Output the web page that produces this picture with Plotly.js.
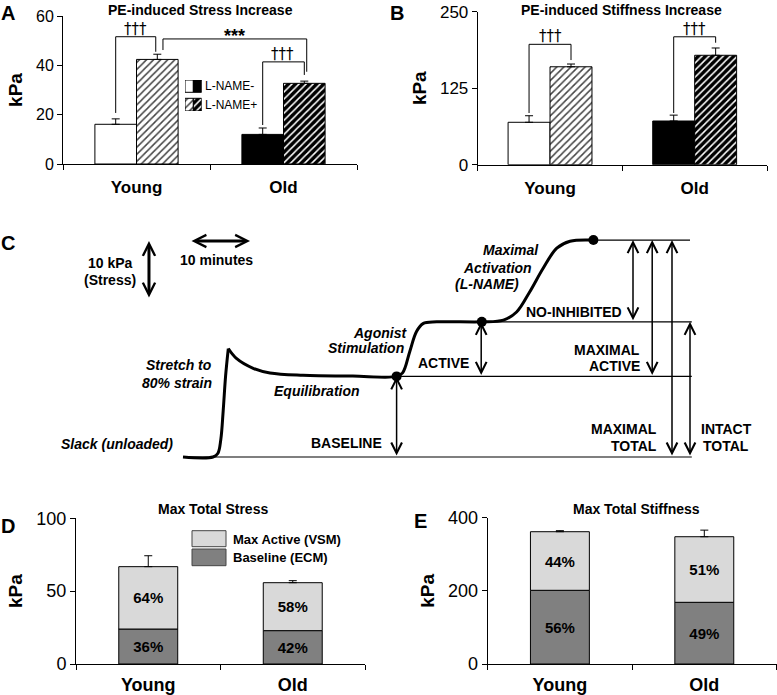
<!DOCTYPE html>
<html><head><meta charset="utf-8">
<script src="https://cdn.plot.ly/plotly-3.0.1.min.js"></script>
<style>html,body{margin:0;padding:0;background:#fff}#chart{width:777px;height:695px}</style>
</head><body><div id="chart"></div>
<script>
// ---------------- data ----------------
const groups = ['Young', 'Old'];
const groupFill = ['white', 'black'];       // L-NAME- fill per group
const groupHatchFg = ['#444', 'white'];     // L-NAME+ hatch line colour per group

// Panel A: PE-induced stress increase (kPa)
const stressNoLName = [16.1, 12.0];
const stressNoLNameSem = [2.2, 2.6];
const stressLName = [42.4, 32.7];
const stressLNameSem = [2.1, 0.9];

// Panel B: PE-induced stiffness increase (kPa)
const stiffNoLName = [69.3, 71.4];
const stiffNoLNameSem = [10.7, 9.6];
const stiffLName = [160.0, 178.8];
const stiffLNameSem = [4.5, 11.9];

// Panel D: max total stress (kPa)
const stressBaseline = [24.0, 22.9];
const stressMaxActive = [42.8, 32.9];
const stressTotalSem = [7.5, 1.4];
const stressBaselinePct = ['36%', '42%'];
const stressActivePct = ['64%', '58%'];

// Panel E: max total stiffness (kPa)
const stiffBaseline = [201.5, 168.7];
const stiffMaxActive = [160.2, 179.3];
const stiffTotalSem = [2.8, 18.0];
const stiffBaselinePct = ['56%', '49%'];
const stiffActivePct = ['44%', '51%'];

// Panel C: schematic protocol trace (time in min, stress in kPa)
const stretchTime   = [0, 5.0, 5.8, 6.3, 6.7, 7.1, 7.55];
const stretchStress = [0, 0, 0.6, 3.0, 8.0, 14.0, 18.7];
const protocolTime   = [7.55, 8.9, 11.7, 14.5, 20.0, 28.3, 35.6, 36.6, 37.8, 38.9, 40.0, 42.3, 49.8, 53.4, 55.6, 57.8, 60.0, 62.3, 64.5, 68.4];
const protocolStress = [18.7, 17.0, 15.3, 14.5, 14.1, 13.95, 13.9, 14.5, 18.2, 21.6, 23.0, 23.3, 23.3, 23.6, 25.0, 28.5, 32.5, 36.0, 37.2, 37.4];
const keyTime   = [35.6, 49.8, 68.4];
const keyStress = [13.9, 23.3, 37.4];
const levelStress = [0, 13.9, 23.3, 37.4];
const levelStart  = [0, 35.6, 49.8, 68.4];
const levelEnd    = [84.8, 84.8, 84.8, 84.5];
// double arrows: time, low stress, high stress
const measureTime = [35.6, 49.7, 75.0, 78.2, 81.5, 84.5];
const measureLow  = [0, 13.9, 23.3, 13.9, 0, 0];
const measureHigh = [13.9, 23.3, 37.4, 37.4, 37.4, 23.3];

// ---------------- helpers ----------------
const W = 777, H = 695;
const FONT = "'Liberation Sans', Arial, sans-serif";
const X = p => p / W;
const Y = p => 1 - p / H;
const blackLine = {color: 'black', width: 1};
function errUp(arr) {
  return {type: 'data', symmetric: false, array: arr, arrayminus: arr.map(() => 0),
          color: 'black', thickness: 1, width: 4};
}
const hatch = (bg, fg) => ({shape: '/', bgcolor: bg, fgcolor: fg, size: 5, solidity: 0.3, fillmode: 'replace'});

const traces = [];
function pairedBars(xa, ya, negVals, negSem, posVals, posSem, w) {
  traces.push({type: 'bar', x: groups, y: negVals, xaxis: xa, yaxis: ya, width: w, offset: -w,
    marker: {color: groupFill, line: blackLine}, error_y: errUp(negSem), name: 'L-NAME-'});
  groups.forEach((g, i) => {
    traces.push({type: 'bar', x: [g], y: [posVals[i]], xaxis: xa, yaxis: ya, width: w, offset: 0,
      marker: {color: groupFill[i], pattern: hatch(groupFill[i], groupHatchFg[i]), line: blackLine},
      error_y: errUp([posSem[i]]), name: 'L-NAME+'});
  });
}
pairedBars('x', 'y', stressNoLName, stressNoLNameSem, stressLName, stressLNameSem, 0.283);
pairedBars('x2', 'y2', stiffNoLName, stiffNoLNameSem, stiffLName, stiffLNameSem, 0.29);

// Panel A legend swatches (split: Young | Old style)
[0, 1].forEach(i => {
  traces.push({type: 'bar', x: [i + 0.5], y: [12.3], base: [18.7], width: 1, xaxis: 'x6', yaxis: 'y6',
    marker: {color: groupFill[i], line: blackLine}, hoverinfo: 'skip'});
  traces.push({type: 'bar', x: [i + 0.5], y: [12.7], base: [0], width: 1, xaxis: 'x6', yaxis: 'y6',
    marker: {color: groupFill[i], pattern: hatch(groupFill[i], groupHatchFg[i]), line: blackLine}, hoverinfo: 'skip'});
});

// Panels D & E (stacked via base)
const pctFont = {family: FONT, size: 15, weight: 'bold', color: 'black'};
function stackPair(xa, ya, baseVals, activeVals, sem, basePct, actPct) {
  traces.push({type: 'bar', x: groups, y: baseVals, xaxis: xa, yaxis: ya, width: 0.408, offset: -0.204,
    marker: {color: '#808080', line: blackLine}, text: basePct, textposition: 'inside', insidetextanchor: 'middle',
    textangle: 0, textfont: pctFont, insidetextfont: pctFont, name: 'Baseline (ECM)'});
  traces.push({type: 'bar', x: groups, y: activeVals, base: baseVals, xaxis: xa, yaxis: ya, width: 0.408, offset: -0.204,
    marker: {color: '#d9d9d9', line: blackLine}, text: actPct, textposition: 'inside', insidetextanchor: 'middle',
    textangle: 0, textfont: pctFont, insidetextfont: pctFont, error_y: errUp(sem), name: 'Max Active (VSM)'});
}
stackPair('x4', 'y4', stressBaseline, stressMaxActive, stressTotalSem, stressBaselinePct, stressActivePct);
stackPair('x5', 'y5', stiffBaseline, stiffMaxActive, stiffTotalSem, stiffBaselinePct, stiffActivePct);

// Panel C
const curveLine = {color: 'black', width: 3, shape: 'spline', smoothing: 1};
traces.push({type: 'scatter', mode: 'lines', x: stretchTime, y: stretchStress, xaxis: 'x3', yaxis: 'y3', line: curveLine});
traces.push({type: 'scatter', mode: 'lines', x: protocolTime, y: protocolStress, xaxis: 'x3', yaxis: 'y3', line: curveLine});
traces.push({type: 'scatter', mode: 'markers', x: keyTime, y: keyStress, xaxis: 'x3', yaxis: 'y3',
  marker: {color: 'black', size: 10}});

// ---------------- layout ----------------
const baseAxis = {showgrid: false, zeroline: false, showline: true, linecolor: 'black', linewidth: 1,
  ticks: 'outside', ticklen: 5, tickcolor: 'black', tickwidth: 1, fixedrange: true};
const catTickFont = {family: FONT, size: 17, weight: 'bold', color: 'black'};
const numTickFont = {family: FONT, size: 16, color: 'black'};
const kpaTitle = standoff => ({text: 'kPa', font: {family: FONT, size: 19, weight: 'bold', color: 'black'}, standoff: standoff});
const catAxis = (dom, anchor, fs, so) => Object.assign({}, baseAxis, {domain: dom, anchor: anchor, type: 'category',
  range: [-0.5, 1.5], tickson: 'boundaries', tickfont: Object.assign({}, catTickFont, {size: fs}), ticklabelstandoff: so});
const valAxis = (dom, anchor, range, tv, fs) => Object.assign({}, baseAxis, {domain: dom, anchor: anchor,
  range: range, tickvals: tv, tickfont: Object.assign({}, numTickFont, {size: fs}), title: kpaTitle(8)});

const shapes = [];
const annotations = [];
function line(xref, yref, x0, y0, x1, y1, w) {
  shapes.push({type: 'line', xref: xref, yref: yref, x0: x0, y0: y0, x1: x1, y1: y1, line: {color: 'black', width: w || 1}});
}
function bracket(xref, yref, x0, y0, top, x1, y1) {
  line(xref, yref, x0, y0, x0, top); line(xref, yref, x0, top, x1, top); line(xref, yref, x1, top, x1, y1);
}
function note(text, x, y, opts) {
  annotations.push(Object.assign({text: text, x: x, y: y, xref: 'paper', yref: 'paper', showarrow: false,
    xanchor: 'center', yanchor: 'middle', font: {family: FONT, size: 14, weight: 'bold', color: 'black'}}, opts || {}));
}
function sig(text, xref, yref, x, y, font) {
  annotations.push({text: text, x: x, y: y, xref: xref, yref: yref, showarrow: false, xanchor: 'center', yanchor: 'bottom',
    font: font});
}
const daggerFont = {family: "'DejaVu Sans', sans-serif", size: 15, color: 'black'};
const starFont = {family: FONT, size: 18, weight: 'bold', color: 'black'};

// significance brackets
bracket('x', 'y', -0.1415, 20.7, 51.6, 0.131, 45.5);
bracket('x', 'y', 0.18, 46.2, 50.7, 1.158, 37.4);
bracket('x', 'y', 0.8585, 15.8, 41.4, 1.1415, 36.1);
sig('†††', 'x', 'y', -0.005, 50.3, daggerFont);
sig('***', 'x', 'y', 0.67, 47.0, starFont);
sig('†††', 'x', 'y', 0.995, 40.1, daggerFont);
bracket('x2', 'y2', -0.145, 84.5, 196.7, 0.145, 171);
bracket('x2', 'y2', 0.855, 84.5, 209, 1.145, 199.3);
sig('†††', 'x2', 'y2', 0, 192, daggerFont);
sig('†††', 'x2', 'y2', 1.0, 204, daggerFont);

// panel C level lines
levelStress.forEach((s, i) => {
  shapes.push({type: 'line', xref: 'x3', yref: 'y3', x0: levelStart[i], x1: levelEnd[i], y0: s, y1: s,
    line: {color: 'black', width: 1.2}, layer: 'below'});
});
// panel C measurement arrows
measureTime.forEach((t, i) => {
  annotations.push({text: '', x: t, y: measureHigh[i], ax: t, ay: measureLow[i], xref: 'x3', yref: 'y3',
    axref: 'x3', ayref: 'y3', showarrow: true, arrowhead: 5, startarrowhead: 5, arrowside: 'end+start',
    arrowsize: 1.4, startarrowsize: 1.4, arrowwidth: 1.5, arrowcolor: 'black', standoff: 0, startstandoff: 0});
});
// scale bars: 10 kPa and 10 minutes
const scaleOriginTime = 1.17, scaleOriginStress = 37.24, scaleBarX = -5.67;
annotations.push({text: '', x: scaleBarX, y: scaleOriginStress, ax: scaleBarX, ay: scaleOriginStress - 10,
  xref: 'x3', yref: 'y3', axref: 'x3', ayref: 'y3', showarrow: true, arrowhead: 5, startarrowhead: 5,
  arrowside: 'end+start', arrowsize: 0.8, startarrowsize: 0.8, arrowwidth: 3, arrowcolor: 'black'});
annotations.push({text: '', x: scaleOriginTime + 10, y: scaleOriginStress, ax: scaleOriginTime, ay: scaleOriginStress,
  xref: 'x3', yref: 'y3', axref: 'x3', ayref: 'y3', showarrow: true, arrowhead: 5, startarrowhead: 5,
  arrowside: 'end+start', arrowsize: 0.8, startarrowsize: 0.8, arrowwidth: 3, arrowcolor: 'black'});

// panel letters and titles
const letterFont = {family: FONT, size: 20, weight: 'bold', color: 'black'};
note('A', X(8), Y(13), {font: letterFont});
note('B', X(397), Y(13), {font: letterFont});
note('C', X(8), Y(243), {font: letterFont});
note('D', X(8), Y(526), {font: letterFont});
note('E', X(420), Y(521), {font: letterFont});
note('PE-induced Stress Increase', X(200), Y(10));
note('PE-induced Stiffness Increase', X(621), Y(10));
note('Max Total Stress', X(213), Y(509));
note('Max Total Stiffness', X(636), Y(509));

// legend A
note('L-NAME-', X(203), Y(86.5), {xanchor: 'left', font: {family: FONT, size: 12, color: 'black'}});
note('L-NAME+', X(203), Y(104.7), {xanchor: 'left', font: {family: FONT, size: 12, color: 'black'}});
// legend D
shapes.push({type: 'rect', xref: 'paper', yref: 'paper', x0: X(192), x1: X(226), y0: Y(546.7), y1: Y(530.7),
  fillcolor: '#d9d9d9', line: {color: '#444', width: 1}});
shapes.push({type: 'rect', xref: 'paper', yref: 'paper', x0: X(192), x1: X(226), y0: Y(565.7), y1: Y(549),
  fillcolor: '#808080', line: {color: '#444', width: 1}});
note('Max Active (VSM)', X(231), Y(539), {xanchor: 'left', font: {family: FONT, size: 13, weight: 'bold', color: 'black'}});
note('Baseline (ECM)', X(231), Y(557), {xanchor: 'left', font: {family: FONT, size: 13, weight: 'bold', color: 'black'}});

// panel C labels
const it = {family: FONT, size: 14, weight: 'bold', style: 'italic', color: 'black'};
note('10 kPa', X(110), Y(263));
note('(Stress)', X(110), Y(280));
note('10 minutes', X(216.5), Y(260));
note('Slack (unloaded)', X(117), Y(444), {font: it});
note('Stretch to', X(214), Y(365), {xanchor: 'right', font: it});
note('80% strain', X(214), Y(382.7), {xanchor: 'right', font: it});
note('Equilibration', X(316.7), Y(391), {font: it});
note('Agonist', X(409), Y(333), {xanchor: 'right', font: it});
note('Stimulation', X(406), Y(348), {xanchor: 'right', font: it});
note('Maximal', X(541), Y(250), {xanchor: 'right', font: it});
note('Activation', X(534), Y(267.5), {xanchor: 'right', font: it});
note('(L-NAME)', X(521), Y(284.3), {xanchor: 'right', font: it});
note('NO-INHIBITED', X(624), Y(312), {xanchor: 'right'});
note('ACTIVE', X(471), Y(363), {xanchor: 'right'});
note('MAXIMAL', X(642), Y(350), {xanchor: 'right'});
note('ACTIVE', X(642), Y(365.7), {xanchor: 'right'});
note('MAXIMAL', X(659), Y(429.3), {xanchor: 'right'});
note('TOTAL', X(659), Y(446), {xanchor: 'right'});
note('INTACT', X(699), Y(429.3), {xanchor: 'left'});
note('TOTAL', X(701), Y(446), {xanchor: 'left'});
note('BASELINE', X(384), Y(443), {xanchor: 'right'});

const hidden = {visible: false, fixedrange: true, showgrid: false, zeroline: false};
const layout = {
  width: W, height: H, margin: {l: 0, r: 0, t: 0, b: 0},
  paper_bgcolor: 'white', plot_bgcolor: 'rgba(0,0,0,0)', showlegend: false,
  barmode: 'overlay', font: {family: FONT, color: 'black'},
  xaxis: catAxis([X(63), X(357)], 'y', 17, 8),
  yaxis: valAxis([Y(164), Y(16)], 'x', [0, 60], [0, 20, 40, 60], 16),
  xaxis2: catAxis([X(477.7), X(767)], 'y2', 17, 8),
  yaxis2: valAxis([Y(164.7), Y(11.7)], 'x2', [0, 250], [0, 125, 250], 17),
  xaxis3: Object.assign({}, hidden, {domain: [0, 1], range: [-30.5, 99], anchor: 'y3'}),
  yaxis3: Object.assign({}, hidden, {domain: [0, 1], range: [-41.03, 78.79], anchor: 'x3'}),
  xaxis4: catAxis([X(76), X(365)], 'y4', 18, 4),
  yaxis4: valAxis([Y(664), Y(518.3)], 'x4', [0, 100], [0, 50, 100], 18),
  xaxis5: catAxis([X(487.7), X(776.5)], 'y5', 18, 4),
  yaxis5: valAxis([Y(664), Y(517.7)], 'x5', [0, 400], [0, 200, 400], 18),
  xaxis6: Object.assign({}, hidden, {domain: [X(185), X(201.7)], range: [0, 2], anchor: 'y6'}),
  yaxis6: Object.assign({}, hidden, {domain: [Y(111), Y(80)], range: [0, 31], anchor: 'x6'}),
  shapes: shapes, annotations: annotations
};
Plotly.newPlot('chart', traces, layout, {displayModeBar: false, staticPlot: true});
</script></body></html>
